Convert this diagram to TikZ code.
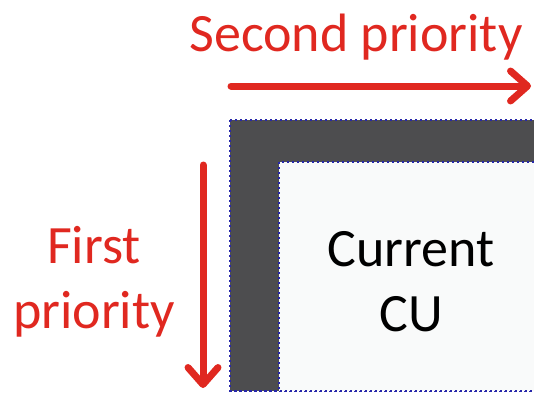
\documentclass[tikz,border=0pt]{standalone}
\usepackage{fontspec}
\setmainfont{Carlito}
\usetikzlibrary{arrows.meta, positioning, calc}

\definecolor{prioRed}{RGB}{224,40,32}
\definecolor{ctuGray}{RGB}{77,77,79}
\definecolor{cuWhite}{RGB}{249,250,250}
\definecolor{edgeBlue}{RGB}{40,40,170}

\begin{document}
\begin{tikzpicture}[x=1pt, y=-1pt]
		\tikzstyle{label_text} = [inner sep=0, align=center, font=\fontsize{54}{65}\selectfont]
		\tikzstyle{prio_text} = [label_text, text=prioRed]
		\tikzstyle{prio_line} = [-{Straight Barb[length=17pt, width=30pt, round]}, line width=7pt, prioRed, line cap=round]
		\tikzstyle{block_edge} = [draw=edgeBlue, dash pattern=on 2pt off 3pt, line width=2pt]

		\useasboundingbox (0,0) rectangle (534,396);

		% Neighbouring area and current block
		\begin{scope}
			\clip (0,0) rectangle (534,396);
			\filldraw[block_edge, fill=ctuGray] (230,120) rectangle (560,391);
			\filldraw[block_edge, fill=cuWhite] (279,162) rectangle (560,391);
			\draw[block_edge] (230,391) -- (560,391);
		\end{scope}
		\node[label_text, anchor=base](cur_cu) at (411,331) {Current\\CU};

		% Priorities
		\node[prio_text, anchor=base](second) at (356,52) {Second priority};
		\node[prio_text, anchor=base](first) at (94,328) {First\\priority};

		\coordinate (second_start) at (231,86);
		\coordinate (second_end) at (531,86);
		\coordinate (first_start) at (203,165);
		\coordinate (first_end) at (203,388);

		\draw[prio_line] (second_start) -- (second_end);
		\draw[prio_line] (first_start) -- (first_end);

	\end{tikzpicture}
\end{document}
